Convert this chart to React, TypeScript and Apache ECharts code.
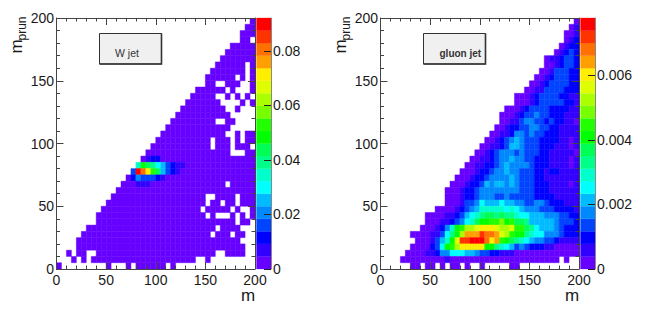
import React, { useEffect, useRef } from "react";
import * as echarts from "echarts";

// ROOT rainbow palette, bottom to top of the colour bar
const palette = [
  "#6600ff", "#3300ff", "#0000ff", "#0044ff", "#0088ff", "#00bbff", "#00ffff", "#00ffcc", "#00ff88", "#00ff55",
  "#00ff00", "#22ff00", "#77ff00", "#aaff00", "#ddff00", "#ffee00", "#ffa000", "#ff7000", "#ff3300", "#ff0000",
];
const binSize = 5;
const binCount = 40;
const wMax = 0.0921;
const gluonMax = 0.00777;
const wBarTicks = [0, 0.02, 0.04, 0.06, 0.08];
const gluonBarTicks = [0, 0.002, 0.004, 0.006];

// W jet: first filled column per row (top row first)
const wStart = [39,38,37,37,35,34,33,32,31,30,30,28,27,26,25,24,23,22,21,20,19,18,17,16,15,14,13,12,11,10,9,8,8,6,5,4,4,2,3,0];
// W jet: empty columns per row
const wHoles: Record<number, number[]> = {
  3: [39], 7: [38], 8: [38], 9: [36, 38], 10: [32, 33, 37, 38], 11: [34, 36, 37, 38],
  12: [32, 33, 35, 37, 39], 13: [33, 34, 35, 36, 38], 14: [34, 35, 37, 38, 39], 15: [35, 36, 37, 38, 39],
  16: [32, 33, 36, 37, 38, 39], 17: [35, 36, 37, 38, 39], 18: [34, 35, 37], 19: [31, 35, 37], 20: [31, 35, 39],
  21: [35, 36, 37], 26: [34], 28: [30, 31, 36], 29: [30, 33, 36], 30: [29, 35, 37, 38],
  31: [30, 32, 33, 34, 36, 38], 32: [36, 39], 33: [32, 37, 38, 39], 34: [31, 35, 38, 39], 35: [37, 38, 39],
  36: [38, 39], 37: [3, 6, 7, 32, 33, 38, 39], 38: [4, 6, 28, 29, 31, 32, 33, 34, 35, 36, 37, 38, 39],
  39: [1,2,3,4,5,6,7,8,9,11,12,13,15,22,24,25,26,27,28,29,30,31,32,33,34,35,36,37,38,39],
};
// W jet: the peak, [row, column, colour level]
const wPeak = [
  [22,18,1],[22,19,2],[22,20,2],
  [23,16,7],[23,17,10],[23,18,9],[23,19,8],[23,20,6],[23,21,5],[23,22,3],[23,23,2],[23,24,1],[23,25,1],
  [24,15,3],[24,16,19],[24,17,17],[24,18,15],[24,19,11],[24,20,9],[24,21,5],[24,22,3],[24,23,2],[24,24,1],
  [25,15,2],[25,16,4],[25,17,3],[25,18,3],[25,19,3],[25,20,2],[25,21,1],
  [26,16,1],[26,17,1],[26,18,1],
];

// gluon jet: first filled column per row, and colour level per column in base 20 ("." = empty)
const gluonStart = [39,38,37,37,36,35,33,33,32,31,30,29,27,27,25,24,24,23,22,21,20,19,18,17,16,15,14,13,13,13,11,9,9,8,6,7,6,5,4,6];
const gluonLevels = [
  "0","01","001","012","0122","01232","0112332","0012332","00133322","001233322","0012333322","00113333222",
  "0001233332211","0001233333221","000123333222211","0001233433222111","0011344332322110","00122334433221111",
  "001124434332221111","0012345433322221101","00112355433322211101","001234443433322111110",
  "0011234454433222111101","00112234544443222111101","000122344544333221221111","0001223444454333221111111",
  "00012235455454333222111101","000122344444444333222111111","000122344433433333222211111",
  "000133465556554433443222111","00001234577777676544433322221","0000112356789989887665554443322",
  "00011234679aabbcab9985555543332","0001247abddefffeddebb98655543222","000011368adgggihhgedbaa87664443222",
  "0001357aeiijjjhfgba98765443321111","0000236abdfffffaa87653432221100000","00001124466655433221110000000000000",
  "0000000001" + "0000000000000000000000" + ".0..","00.00.0.00.0..0.....00",
];

function levelValue(level: number, zMax: number) {
  return ((level + 0.5) * zMax) / palette.length;
}

function wCells() {
  const cells: number[][] = [];
  wStart.forEach((start, row) => {
    const holes = wHoles[row] || [];
    for (let col = start; col < binCount; col++) {
      if (holes.includes(col)) continue;
      const peak = wPeak.find((p) => p[0] === row && p[1] === col);
      cells.push([col * binSize, (binCount - 1 - row) * binSize, levelValue(peak ? peak[2] : 0, wMax)]);
    }
  });
  return cells;
}

function gluonCells() {
  const cells: number[][] = [];
  gluonLevels.forEach((text, row) => {
    for (let i = 0; i < text.length; i++) {
      const col = gluonStart[row] + i;
      if (text[i] === "." || col >= binCount) continue;
      cells.push([col * binSize, (binCount - 1 - row) * binSize, levelValue(parseInt(text[i], 20), gluonMax)]);
    }
  });
  return cells;
}

function barCells(zMax: number) {
  return palette.map((_, i) => [0, (i * zMax) / palette.length, ((i + 1) * zMax) / palette.length]);
}

const axisColor = "#444";
const textColor = "#1a1a1a";
const fontFamily = "'Liberation Sans', Arial, sans-serif";
const gridTop = 18;
const gridHeight = 251;
const panelLeft = [56.5, 380.5];
const panelWidth = 198.5;
const labelSize = 14;

function cellSeries(index: number, cells: number[][], zMax: number) {
  return {
    type: "custom",
    xAxisIndex: index * 2,
    yAxisIndex: index * 2,
    silent: true,
    z: 1,
    clip: true,
    data: cells,
    encode: { x: 0, y: 1 },
    renderItem: (_p: any, api: any) => {
      const x = api.value(0);
      const y = api.value(1);
      const a = api.coord([x, y + binSize]);
      const b = api.coord([x + binSize, y]);
      const lvl = Math.min(palette.length - 1, Math.floor((api.value(2) / zMax) * palette.length));
      return {
        type: "rect",
        shape: { x: a[0], y: a[1], width: b[0] - a[0], height: b[1] - a[1] },
        style: { fill: palette[lvl], stroke: palette[lvl], lineWidth: 0.45 },
      };
    },
  };
}

function barSeries(index: number, zMax: number) {
  return {
    type: "custom",
    xAxisIndex: 4 + index,
    yAxisIndex: 4 + index,
    silent: true,
    z: 1,
    data: barCells(zMax),
    encode: { y: [1, 2] },
    renderItem: (p: any, api: any) => {
      const a = api.coord([0, api.value(2)]);
      const b = api.coord([1, api.value(1)]);
      return {
        type: "rect",
        shape: { x: a[0], y: a[1], width: b[0] - a[0], height: b[1] - a[1] },
        style: { fill: palette[p.dataIndex], stroke: palette[p.dataIndex], lineWidth: 0.3 },
      };
    },
  };
}

function panelAxis(gridIndex: number) {
  return {
    type: "value",
    gridIndex,
    min: 0,
    max: 200,
    interval: 50,
    z: 5,
    splitLine: { show: false },
    axisLine: { show: true, onZero: false, lineStyle: { color: axisColor, width: 1 } },
    axisTick: { show: true, inside: true, length: 7, lineStyle: { color: axisColor, width: 1 } },
    minorTick: { show: true, splitNumber: 5, length: 3.5, lineStyle: { color: axisColor, width: 1 } },
  };
}

function panelXAxes(gridIndex: number) {
  return [
    {
      ...panelAxis(gridIndex),
      position: "bottom",
      axisLabel: { show: true, margin: 4, color: textColor, fontSize: labelSize, fontFamily, hideOverlap: false },
    },
    { ...panelAxis(gridIndex), position: "top", axisLabel: { show: false } },
  ];
}

function panelYAxes(gridIndex: number) {
  return [
    {
      ...panelAxis(gridIndex),
      position: "left",
      axisLabel: { show: true, margin: 2.5, color: textColor, fontSize: labelSize, fontFamily, hideOverlap: false },
    },
    { ...panelAxis(gridIndex), position: "right", axisLabel: { show: false } },
  ];
}

function barXAxis(gridIndex: number) {
  return { type: "value", gridIndex, min: 0, max: 1, show: false };
}

function barYAxis(gridIndex: number, zMax: number, ticks: number[]) {
  return {
    type: "value",
    gridIndex,
    min: 0,
    max: zMax,
    position: "right",
    z: 5,
    splitLine: { show: false },
    axisLine: { show: true, onZero: false, lineStyle: { color: "#888", width: 1 } },
    axisTick: { show: true, inside: true, length: 7, customValues: ticks, lineStyle: { color: "#222", width: 1 } },
    axisLabel: {
      show: true,
      margin: 2,
      customValues: ticks,
      color: textColor,
      fontSize: labelSize,
      fontFamily,
      hideOverlap: false,
      formatter: (v: number) => String(parseFloat(Number(v).toFixed(4))),
    },
  };
}

function panelGraphics(left: number, label: string, labelX: number, bold: boolean) {
  const titleStyle = { fill: textColor, fontFamily };
  const bx = left + 43;
  return [
    {
      type: "rect",
      z: 10,
      shape: { x: bx, y: 33.5, width: 62, height: 30.5 },
      style: { fill: "#f0f0f0", stroke: "#333", lineWidth: 1 },
    },
    {
      type: "polyline",
      z: 10,
      shape: { points: [[bx + 62, 33.5], [bx + 62, 64], [bx, 64]] },
      style: { fill: "none", stroke: "#333", lineWidth: 1.6 },
    },
    {
      type: "text",
      z: 11,
      x: labelX,
      y: 53,
      style: {
        text: label,
        fill: "#333",
        fontFamily,
        fontSize: bold ? 10 : 10.5,
        fontWeight: bold ? "bold" : "normal",
        textVerticalAlign: "middle",
      },
    },
    {
      type: "text",
      z: 11,
      x: left + 184.5,
      y: 289.5,
      style: { ...titleStyle, text: "m", fontSize: 17, lineHeight: 12, textVerticalAlign: "top" },
    },
    {
      type: "text",
      z: 11,
      x: left - 40.5,
      y: 53.5,
      rotation: Math.PI / 2,
      style: { ...titleStyle, text: "m", fontSize: 17, textVerticalAlign: "middle" },
    },
    {
      type: "text",
      z: 11,
      x: left - 35,
      y: 40.5,
      rotation: Math.PI / 2,
      style: { ...titleStyle, text: "prun", fontSize: 12, textVerticalAlign: "middle" },
    },
  ];
}

export default function App() {
  const ref = useRef<HTMLDivElement>(null);
  useEffect(() => {
    if (!ref.current) return;
    const chart = echarts.init(ref.current, undefined, { renderer: "svg" });
    chart.setOption({
      animation: false,
      backgroundColor: "#fff",
      grid: [
        { left: panelLeft[0], top: gridTop, width: panelWidth, height: gridHeight },
        { left: panelLeft[1], top: gridTop, width: panelWidth, height: gridHeight },
        { left: panelLeft[0] + panelWidth + 1.5, top: gridTop, width: 14.5, height: gridHeight },
        { left: panelLeft[1] + panelWidth + 1.5, top: gridTop, width: 14.5, height: gridHeight },
      ],
      xAxis: [...panelXAxes(0), ...panelXAxes(1), barXAxis(2), barXAxis(3)],
      yAxis: [...panelYAxes(0), ...panelYAxes(1), barYAxis(2, wMax, wBarTicks), barYAxis(3, gluonMax, gluonBarTicks)],
      series: [cellSeries(0, wCells(), wMax), cellSeries(1, gluonCells(), gluonMax), barSeries(0, wMax), barSeries(1, gluonMax)],
      graphic: [
        ...panelGraphics(panelLeft[0], "W jet", 115, false),
        ...panelGraphics(panelLeft[1], "gluon jet", 439.5, true),
      ],
    });
    return () => chart.dispose();
  }, []);
  return <div ref={ref} style={{ position: "absolute", left: 0, top: 0, width: 648, height: 313, background: "#fff" }} />;
}
